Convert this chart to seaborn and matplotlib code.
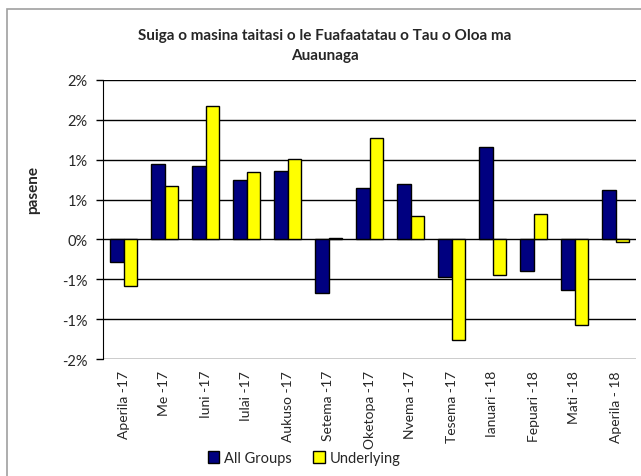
import numpy as np
import pandas as pd
import seaborn as sns
import matplotlib.pyplot as plt
from matplotlib.patches import Rectangle

months = ['Aperila -17', 'Me -17', 'Iuni -17', 'Iulai -17', 'Aukuso -17', 'Setema -17',
          'Oketopa -17', 'Nvema -17', 'Tesema -17', 'Ianuari -18', 'Fepuari -18',
          'Mati -18', 'Aperila - 18']
all_groups = [-0.28, 0.95, 0.92, 0.75, 0.86, -0.67, 0.64, 0.69, -0.47, 1.16, -0.40, -0.63, 0.62]
underlying = [-0.59, 0.67, 1.68, 0.84, 1.01, 0.02, 1.27, 0.30, -1.26, -0.45, 0.32, -1.07, -0.03]
y_ticks = [-1.5, -1.0, -0.5, 0.0, 0.5, 1.0, 1.5, 2.0]
y_labels = ['-2%', '-1%', '-1%', '0%', '1%', '1%', '2%', '2%']

df = pd.DataFrame({
    'month': months * 2,
    'value': all_groups + underlying,
    'series': ['All Groups'] * len(months) + ['Underlying'] * len(months),
})

sns.set_style('white')
plt.rcParams['font.family'] = ['Lato', 'DejaVu Sans']

fig = plt.figure(figsize=(6.41, 4.77), dpi=100)
ax = fig.add_axes([103 / 641, 1 - 360 / 477, 533 / 641, 279 / 477])

sns.barplot(data=df, x='month', y='value', hue='series', ax=ax,
            palette=['#000080', '#FFFF00'], edgecolor='black', linewidth=1.0,
            width=0.64, saturation=1)

ax.set_ylim(-1.5, 2.0)
ax.set_xlim(-0.5, len(months) - 0.5)
ax.set_yticks(y_ticks)
ax.set_yticklabels(y_labels, fontsize=10.5)
for y in y_ticks:
    ax.axhline(y, color='black', lw=1, zorder=0)
ax.tick_params(axis='y', direction='out', length=5, width=1, color='black', left=True, pad=6)
ax.tick_params(axis='x', length=0, labelsize=10, rotation=90, pad=8)
sns.despine(ax=ax, top=True, right=True, bottom=True)
ax.spines['left'].set_color('black')
ax.set_xlabel('')
ax.set_ylabel('')
ax.set_axisbelow(True)

fig.text(33 / 641, 1 - 190 / 477, 'pasene', rotation=90, fontsize=11, fontweight='bold',
         ha='center', va='center')
fig.text(325 / 641, 1 - 46 / 477, 'Suiga o masina taitasi o le Fuafaatatau o Tau o Oloa ma\nAuaunaga',
         fontsize=11, fontweight='bold', ha='center', va='center', linespacing=1.6)

ax.legend(loc='center', bbox_to_anchor=(304 / 641, 1 - 459 / 477), bbox_transform=fig.transFigure,
          ncol=2, frameon=False, fontsize=10.5, handlelength=0.8, handleheight=0.8,
          handletextpad=0.3, columnspacing=1.5)

fig.patches.append(Rectangle((7 / 641, -0.1), 1.2, 1 - 10 / 477 + 0.1, transform=fig.transFigure,
                             fill=False, edgecolor='#a0a0a0', lw=1.2))

fig.savefig('out.png', dpi=100)
